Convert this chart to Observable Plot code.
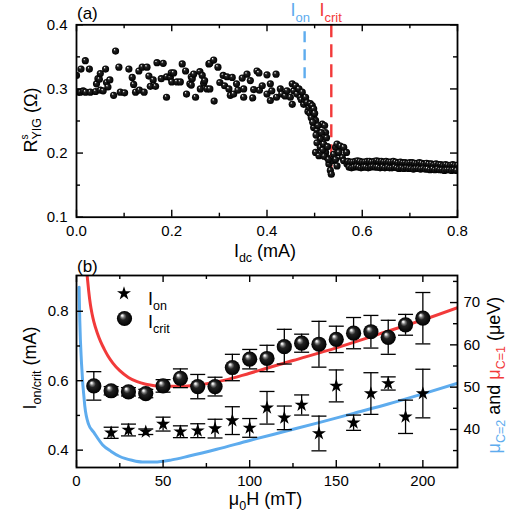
<!DOCTYPE html>
<html>
<head>
<meta charset="utf-8">
<script src="https://cdn.jsdelivr.net/npm/d3@7"></script>
<script src="https://cdn.jsdelivr.net/npm/@observablehq/plot@0.6"></script>
<style>
  body { margin: 0; background: #fff; }
  #chart { position: relative; width: 508px; height: 514px; }
  #chart svg { position: absolute; left: 0; }
</style>
</head>
<body>
<div id="chart"></div>
<script>
// ---------- panel (a): spin-Hall resistance against dc current ----------
const sweepCurrent = [
  0.000,0.0035,0.008,0.0095,0.014,0.0185,0.019,0.027,0.029,0.040,0.042,0.045,0.048,0.050,0.050,0.056,0.061,0.063,0.066,0.070,
  0.078,0.082,0.089,0.092,0.101,0.110,0.117,0.120,0.124,0.131,0.132,0.138,0.142,0.148,0.152,0.155,0.161,0.166,0.169,0.178,
  0.182,0.189,0.189,0.197,0.199,0.200,0.204,0.211,0.218,0.222,0.229,0.231,0.238,0.241,0.241,0.243,0.246,0.250,0.259,0.260,
  0.264,0.267,0.269,0.274,0.278,0.280,0.280,0.288,0.289,0.297,0.301,0.308,0.311,0.316,0.320,0.323,0.327,0.330,0.336,0.339,
  0.348,0.351,0.351,0.358,0.365,0.370,0.372,0.379,0.383,0.384,0.390,0.400,0.400,0.407,0.407,0.410,0.419,0.420,0.428,0.431,
  0.438,0.442,0.449,0.453,0.453,0.456,0.460,0.463,0.467,0.470,0.472,0.474,0.477,0.479,0.481,0.484,0.486,0.488,0.490,0.491,
  0.495,0.495,0.498,0.498,
  0.502,0.498,0.505,0.509,0.512,0.505,0.512,0.502,0.509,0.516,0.521,0.523,0.525,0.519,0.523,0.526,0.530,0.533,0.535,0.537,
  0.540,0.544,0.547,0.554,0.561,0.567,0.551,0.558,0.544,0.547,0.561,0.568,
  0.493,0.496,0.500,0.503,0.507,0.514,0.517,0.520,0.527,0.529,
  0.570,0.575,0.580,0.585,0.590,0.595,0.600,0.605,0.610,0.615,0.620,0.625,0.630,0.635,0.640,0.645,0.650,0.655,0.660,0.665,
  0.670,0.675,0.680,0.685,0.690,0.695,0.700,0.705,0.710,0.715,0.720,0.725,0.730,0.735,0.740,0.745,0.750,0.755,0.760,0.765,
  0.770,0.775,0.780,0.785,0.790,0.795,0.800,
  0.5725,0.5775,0.5825,0.5875,0.5925,0.5975,0.6025,0.6075,0.6125,0.6175,0.6225,0.6275,0.6325,0.6375,0.6425,0.6475,0.6525,0.6575,0.6625,0.6675,
  0.6725,0.6775,0.6825,0.6875,0.6925,0.6975,0.7025,0.7075,0.7125,0.7175,0.7225,0.7275,0.7325,0.7375,0.7425,0.7475,0.7525,0.7575,0.7625,0.7675,
  0.7725,0.7775,0.7825,0.7875,0.7925,0.7975
];
const sweepResistance = [
  0.321,0.295,0.295,0.331,0.297,0.344,0.295,0.331,0.295,0.296,0.308,0.316,0.315,0.298,0.324,0.297,0.331,0.310,0.303,0.314,
  0.290,0.359,0.334,0.295,0.294,0.331,0.318,0.307,0.295,0.328,0.298,0.334,0.295,0.334,0.320,0.304,0.314,0.304,0.341,0.316,
  0.340,0.287,0.319,0.318,0.325,0.311,0.325,0.311,0.311,0.339,0.328,0.292,0.308,0.306,0.319,0.316,0.323,0.287,0.327,0.300,
  0.321,0.309,0.313,0.300,0.339,0.340,0.300,0.345,0.281,0.334,0.310,0.321,0.305,0.319,0.300,0.290,0.318,0.292,0.308,0.298,
  0.317,0.287,0.300,0.323,0.313,0.286,0.299,0.328,0.325,0.298,0.305,0.322,0.292,0.308,0.282,0.297,0.323,0.287,0.300,0.292,
  0.289,0.297,0.287,0.308,0.276,0.297,0.305,0.292,0.300,0.287,0.283,0.295,0.276,0.283,0.287,0.279,0.265,0.271,0.262,0.277,
  0.274,0.266,0.269,0.258,
  0.251,0.240,0.235,0.230,0.222,0.216,0.209,0.201,0.196,0.245,0.243,0.232,0.224,0.214,0.201,0.193,0.183,0.173,0.167,0.188,
  0.198,0.209,0.214,0.211,0.209,0.201,0.201,0.193,0.190,0.180,0.188,0.183,
  0.255,0.248,0.262,0.228,0.243,0.232,0.205,0.195,0.210,0.190,
  0.187,0.186,0.186,0.187,0.188,0.187,0.186,0.186,0.187,0.187,0.186,0.187,0.188,0.187,0.187,0.186,0.187,0.186,0.186,0.187,
  0.186,0.185,0.186,0.185,0.185,0.184,0.185,0.185,0.184,0.184,0.185,0.184,0.183,0.184,0.183,0.183,0.182,0.183,0.182,0.182,
  0.181,0.182,0.181,0.181,0.182,0.181,0.181,
  0.178,0.177,0.178,0.179,0.178,0.177,0.178,0.178,0.177,0.178,0.179,0.178,0.178,0.177,0.178,0.177,0.178,0.177,0.177,0.178,
  0.177,0.176,0.177,0.176,0.177,0.176,0.176,0.175,0.176,0.176,0.175,0.176,0.175,0.175,0.174,0.175,0.174,0.175,0.174,0.174,
  0.173,0.174,0.174,0.173,0.174,0.173
];
const onsetCurrent = 0.479;     // I_on marker (mA)
const criticalCurrent = 0.535;  // I_crit marker (mA)

const xMajorA = [0, 0.2, 0.4, 0.6, 0.8];
const xMinorA = [0.1, 0.3, 0.5, 0.7];
const yMajorA = [0.1, 0.2, 0.3, 0.4];
const yMinorA = [0.15, 0.25, 0.35];

// ---------- panel (b): onset / critical currents against field ----------
const critField = [10,20,30,40,50,60,70,80,90,100,110,120,130,140,150,160,170,180,190,200];
const critCurrent = [0.585,0.571,0.568,0.563,0.585,0.607,0.583,0.583,0.638,0.662,0.664,0.698,0.708,0.705,0.719,0.737,0.741,0.725,0.761,0.780];
const critError   = [0.041,0.012,0.012,0.012,0.018,0.027,0.035,0.027,0.038,0.028,0.038,0.050,0.026,0.066,0.038,0.045,0.047,0.049,0.030,0.074];

const onField = [20,30,40,50,60,70,80,90,100,110,120,130,140,150,160,170,180,190,200];
const onCurrent = [0.450,0.458,0.453,0.475,0.453,0.456,0.462,0.485,0.464,0.522,0.493,0.530,0.448,0.585,0.479,0.563,0.592,0.496,0.563];
const onError   = [0.016,0.017,0.008,0.020,0.017,0.020,0.027,0.040,0.027,0.047,0.034,0.029,0.050,0.046,0.022,0.060,0.019,0.048,0.070];

// chemical-potential curves (right axis, µeV)
const mu1Field  = [5.2, 6.2, 7, 8, 9, 10, 12, 14, 16, 18, 21, 25, 30, 35, 40, 50, 60, 70, 85, 100, 125, 150, 175, 200, 220];
const mu1Energy = [80.5, 76.2, 72.9, 69.6, 67.3, 65.5, 62.8, 60.7, 59.0, 57.5, 55.7, 53.9, 52.3, 51.3, 50.7, 50.2, 50.2, 50.5, 51.6, 53.3, 56.3, 59.3, 62.6, 65.9, 68.8];
const mu2Field  = [1.5, 1.9, 2.9, 4.8, 7, 10, 15, 20, 25, 32, 38, 45, 55, 65, 81, 100, 120, 140, 160, 180, 200, 220];
const mu2Energy = [73.6, 65.7, 55.6, 45.5, 41.2, 39.3, 36.4, 34.8, 33.6, 32.7, 32.3, 32.3, 32.8, 33.7, 35.3, 37.4, 39.5, 41.6, 43.8, 46.0, 48.4, 50.9];

const xMajorB = [0, 50, 100, 150, 200];
const xMinorB = [25, 75, 125, 175];
const yMajorB = [0.4, 0.6, 0.8];
const yMinorB = [0.5, 0.7];
const rMajorB = [40, 50, 60, 70];
const rMinorB = [35, 45, 55, 65, 75];

const leftDomainB = [0.35, 0.903];
const rightDomainB = [31.0, 76.4];

// ---------- styling ----------
const FONT = "'Liberation Sans', Arial, sans-serif";
const RED = "#f23a3a";
const BLUE = "#5eacee";
const W = 508;

const sweep = sweepCurrent.map((c, i) => ({current: c, resistance: sweepResistance[i]}));
const crit = critField.map((f, i) => ({field: f, current: critCurrent[i], err: critError[i]}));
const onset = onField.map((f, i) => ({field: f, current: onCurrent[i], err: onError[i]}));
const rightToLeft = d3.scaleLinear(rightDomainB, leftDomainB);
const mu1 = mu1Field.map((f, i) => ({field: f, level: rightToLeft(mu1Energy[i])}));
const mu2 = mu2Field.map((f, i) => ({field: f, level: rightToLeft(mu2Energy[i])}));

// short horizontal bar used as error-bar cap
const capSymbol = {
  draw(ctx, size) {
    const w = Math.sqrt(size / Math.PI);
    ctx.moveTo(-w, 0);
    ctx.lineTo(w, 0);
  }
};

// inward ticks on all four sides of a frame
function frameTicks({xMajor, xMinor, leftMajor, leftMinor, rightMajor, rightMinor, fw, fh}) {
  const major = 7, minor = 4, sw = 1.4;
  const marks = [];
  for (const [v, len] of [[xMajor, major], [xMinor, minor]]) {
    marks.push(Plot.ruleX(v, {insetTop: fh - len, strokeWidth: sw}));
    marks.push(Plot.ruleX(v, {insetBottom: fh - len, strokeWidth: sw}));
  }
  for (const [v, len] of [[leftMajor, major], [leftMinor, minor]])
    marks.push(Plot.ruleY(v, {insetRight: fw - len, strokeWidth: sw}));
  for (const [v, len] of [[rightMajor, major], [rightMinor, minor]])
    marks.push(Plot.ruleY(v, {insetLeft: fw - len, strokeWidth: sw}));
  return marks;
}

// glossy black sphere shading
function addBallGradient(svg, id, stops) {
  const g = d3.select(svg).insert("defs", ":first-child")
    .append("radialGradient").attr("id", id)
    .attr("cx", "50%").attr("cy", "50%").attr("r", "50%")
    .attr("fx", "33%").attr("fy", "28%");
  for (const [o, c] of stops) g.append("stop").attr("offset", o).attr("stop-color", c);
}

function addText(svg, {x, y, rotate = 0, anchor = "start", size = 18, fill = "black", parts}) {
  const t = d3.select(svg).append("text")
    .attr("transform", `translate(${x},${y}) rotate(${rotate})`)
    .attr("text-anchor", anchor)
    .attr("font-family", FONT)
    .attr("font-size", size)
    .attr("fill", fill);
  for (const p of parts) {
    const s = t.append("tspan").text(p.text);
    if (p.dx != null) s.attr("dx", p.dx);
    if (p.dy != null) s.attr("dy", p.dy);
    if (p.size != null) s.attr("font-size", p.size);
    if (p.fill != null) s.attr("fill", p.fill);
  }
}

const baseStyle = {background: "transparent", fontFamily: FONT, fontSize: "15px", color: "black", overflow: "visible"};

// ---------- panel (a) ----------
const topH = 265;
const topFrame = {top: 24.3, bottom: 216.7, left: 76, right: 457};
const plotA = Plot.plot({
  width: W, height: topH,
  marginTop: topFrame.top, marginBottom: topH - topFrame.bottom,
  marginLeft: topFrame.left, marginRight: W - topFrame.right,
  x: {domain: [0, 0.8]},
  y: {domain: [0.1, 0.4]},
  style: baseStyle,
  marks: [
    Plot.ruleX([onsetCurrent], {y1: 0.4, y2: 0.305, stroke: BLUE, strokeWidth: 2.4, strokeDasharray: "11,7", strokeDashoffset: -7}),
    Plot.ruleX([criticalCurrent], {y1: 0.4, y2: 0.175, stroke: RED, strokeWidth: 2.4, strokeDasharray: "13,7"}),
    Plot.dot(sweep, {x: "current", y: "resistance", r: 3.6, fill: "url(#ballA)", clip: true}),
    ...frameTicks({xMajor: xMajorA, xMinor: xMinorA, leftMajor: yMajorA, leftMinor: yMinorA,
                   rightMajor: yMajorA, rightMinor: yMinorA,
                   fw: topFrame.right - topFrame.left, fh: topFrame.bottom - topFrame.top}),
    Plot.axisX({ticks: xMajorA, tickSize: 0, tickPadding: 8, tickFormat: d3.format(".1f"), label: null}),
    Plot.axisY({ticks: yMajorA, tickSize: 0, tickPadding: 9, tickFormat: d3.format(".1f"), label: null}),
    Plot.frame({strokeWidth: 1.8})
  ]
});
plotA.style.top = "0px";
addBallGradient(plotA, "ballA", [["0%", "#ffffff"], ["12%", "#bbbbbb"], ["30%", "#222222"], ["100%", "#000000"]]);
addText(plotA, {x: 77, y: 19, size: 17, parts: [{text: "(a)"}]});
addText(plotA, {x: 290.5, y: 15.5, fill: BLUE, parts: [{text: "I"}, {text: "on", size: 13, dy: 6}]});
addText(plotA, {x: 319.5, y: 15.5, fill: RED, parts: [{text: "I"}, {text: "crit", size: 13, dy: 6}]});
addText(plotA, {x: 265, y: 257, anchor: "middle", parts: [{text: "I"}, {text: "dc", size: 12.5, dy: 5}, {text: " (mA)", dy: -5}]});
addText(plotA, {x: 37, y: 120, rotate: -90, anchor: "middle",
  parts: [{text: "R"}, {text: "s", size: 10, dy: -9}, {text: "YIG", size: 12.5, dx: -5, dy: 13}, {text: " (Ω)", dy: -4}]});

// ---------- panel (b) ----------
const botTop = 250, botH = 264;
const botFrame = {top: 25, bottom: 217, left: 76, right: 457};
const plotB = Plot.plot({
  width: W, height: botH,
  marginTop: botFrame.top, marginBottom: botH - botFrame.bottom,
  marginLeft: botFrame.left, marginRight: W - botFrame.right,
  x: {domain: [0, 220]},
  y: {domain: leftDomainB},
  style: baseStyle,
  marks: [
    Plot.line(mu2, {x: "field", y: "level", stroke: BLUE, strokeWidth: 3, curve: "monotone-x", clip: true}),
    Plot.line(mu1, {x: "field", y: "level", stroke: RED, strokeWidth: 3, curve: "monotone-x", clip: true}),
    Plot.ruleX(crit, {x: "field", y1: d => d.current - d.err, y2: d => d.current + d.err, strokeWidth: 1.3}),
    Plot.dot(crit, {x: "field", y: d => d.current - d.err, symbol: capSymbol, r: 7.5, stroke: "black", fill: "none", strokeWidth: 1.3}),
    Plot.dot(crit, {x: "field", y: d => d.current + d.err, symbol: capSymbol, r: 7.5, stroke: "black", fill: "none", strokeWidth: 1.3}),
    Plot.ruleX(onset, {x: "field", y1: d => d.current - d.err, y2: d => d.current + d.err, strokeWidth: 1.3}),
    Plot.dot(onset, {x: "field", y: d => d.current - d.err, symbol: capSymbol, r: 7.5, stroke: "black", fill: "none", strokeWidth: 1.3}),
    Plot.dot(onset, {x: "field", y: d => d.current + d.err, symbol: capSymbol, r: 7.5, stroke: "black", fill: "none", strokeWidth: 1.3}),
    Plot.dot(onset, {x: "field", y: "current", symbol: "star", r: 4.4, fill: "black", stroke: "none"}),
    Plot.dot(crit, {x: "field", y: "current", r: 7.6, fill: "url(#ballB)", stroke: "none"}),
    ...frameTicks({xMajor: xMajorB, xMinor: xMinorB, leftMajor: yMajorB, leftMinor: yMinorB,
                   rightMajor: rMajorB.map(rightToLeft), rightMinor: rMinorB.map(rightToLeft),
                   fw: botFrame.right - botFrame.left, fh: botFrame.bottom - botFrame.top}),
    Plot.axisX({ticks: xMajorB, tickSize: 0, tickPadding: 8, tickFormat: d3.format("d"), label: null}),
    Plot.axisY({ticks: yMajorB, tickSize: 0, tickPadding: 8, tickFormat: d3.format(".1f"), label: null}),
    Plot.axisY({anchor: "right", ticks: rMajorB.map(rightToLeft), tickSize: 0, tickPadding: 6,
                tickFormat: d => String(Math.round(rightToLeft.invert(d))), label: null}),
    Plot.frame({strokeWidth: 1.8})
  ]
});
plotB.style.top = botTop + "px";
addBallGradient(plotB, "ballB", [["0%", "#ffffff"], ["10%", "#e8e8e8"], ["26%", "#777777"], ["45%", "#222222"], ["100%", "#000000"]]);
addText(plotB, {x: 77, y: 22, size: 17, parts: [{text: "(b)"}]});

// legend
const legend = d3.select(plotB).append("g");
legend.append("path")
  .attr("transform", "translate(124,43.5)")
  .attr("d", d3.symbol(d3.symbolStar, Math.PI * 4.4 * 4.4)());
legend.append("circle").attr("cx", 124.5).attr("cy", 68.5).attr("r", 7.6).attr("fill", "url(#ballB)");
addText(plotB, {x: 148, y: 55, parts: [{text: "I"}, {text: "on", size: 12.5, dy: 5}]});
addText(plotB, {x: 148, y: 78, parts: [{text: "I"}, {text: "crit", size: 12.5, dy: 5}]});

addText(plotB, {x: 265.5, y: 255, anchor: "middle",
  parts: [{text: "μ"}, {text: "0", size: 12.5, dy: 5}, {text: "H (mT)", dy: -5}]});
addText(plotB, {x: 36, y: 118, rotate: -90, anchor: "middle",
  parts: [{text: "I"}, {text: "on/crit", size: 12.5, dy: 5}, {text: " (mA)", dy: -5}]});
addText(plotB, {x: 500, y: 125, rotate: -90, anchor: "middle",
  parts: [
    {text: "μ", fill: BLUE}, {text: "C=2", size: 12.5, dy: 5, fill: BLUE},
    {text: " and ", dy: -5},
    {text: "μ", fill: RED}, {text: "C=1", size: 12.5, dy: 5, fill: RED},
    {text: " (μeV)", dy: -5}
  ]});

document.getElementById("chart").append(plotA, plotB);
</script>
</body>
</html>
